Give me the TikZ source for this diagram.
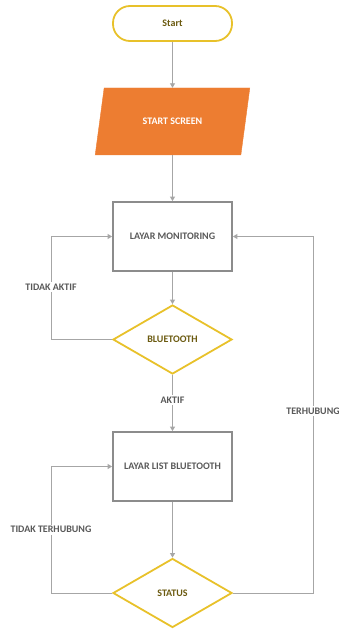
\documentclass[tikz,border=0pt]{standalone}
\usepackage{fontspec}
\setmainfont{Carlito}
\usetikzlibrary{shapes.geometric,arrows.meta}
\definecolor{gold}{HTML}{E8C12A}
\definecolor{orng}{HTML}{ED7D31}
\definecolor{boxgray}{HTML}{8C8C8C}
\definecolor{txtgray}{HTML}{595959}
\definecolor{linegray}{HTML}{A6A6A6}
\definecolor{olive}{HTML}{6B5A10}
\tikzset{
  base/.style={font=\fontsize{10}{12}\selectfont\bfseries, inner sep=0pt},
  startbox/.style={base, draw=gold, line width=1.8pt, rounded corners=17pt, minimum width=119pt, minimum height=35pt, text=olive},
  iobox/.style={base, trapezium, trapezium left angle=59.5, trapezium right angle=120.5, fill=orng, draw=orng, text=white, minimum width=155pt, minimum height=67pt, trapezium stretches=true},
  procbox/.style={base, draw=boxgray, line width=1.8pt, minimum width=119pt, minimum height=69pt, text=txtgray},
  decbox/.style={base, diamond, draw=gold, line width=1.8pt, minimum width=119pt, minimum height=69pt, aspect=1.72, text=olive},
  conn/.style={draw=linegray, line width=0.9pt, -{Triangle[width=5pt,length=4.5pt]}},
  lbl/.style={base, text=txtgray, fill=white, inner sep=1.5pt}
}
\begin{document}
\begin{tikzpicture}[x=1pt,y=-1pt]
\useasboundingbox (0,0) rectangle (339,631);
\node[startbox] (start) at (172.5,23.5) {Start};
\node[iobox] (screen) at (172.5,121.5) {START SCREEN};
\node[procbox] (mon) at (172.5,236.5) {LAYAR MONITORING};
\node[decbox] (bt) at (172.5,339.5) {BLUETOOTH};
\node[procbox] (list) at (172.5,466.5) {LAYAR LIST BLUETOOTH};
\node[decbox] (stat) at (172.5,593) {STATUS};
\coordinate (lt1) at (51,339.5);
\coordinate (lt2) at (51,236.5);
\coordinate (ls1) at (51,593);
\coordinate (ls2) at (51,466.5);
\coordinate (rt1) at (313,593);
\coordinate (rt2) at (313,236.5);
\draw[conn] (start) -- (screen);
\draw[conn] (screen) -- (mon);
\draw[conn] (mon) -- (bt);
\draw[conn] (bt) -- node[lbl, pos=0.45] (aktif) {AKTIF} (list);
\draw[conn] (list) -- (stat);
\draw[conn] (bt.west) -- (lt1) -- node[lbl, pos=0.51] (tak) {TIDAK AKTIF} (lt2) -- (mon.west);
\draw[conn] (stat.west) -- (ls1) -- node[lbl, pos=0.50] (tt) {TIDAK TERHUBUNG} (ls2) -- (list.west);
\draw[conn] (stat.east) -- (rt1) -- node[lbl, pos=0.51] (th) {TERHUBUNG} (rt2) -- (mon.east);
\end{tikzpicture}
\end{document}
